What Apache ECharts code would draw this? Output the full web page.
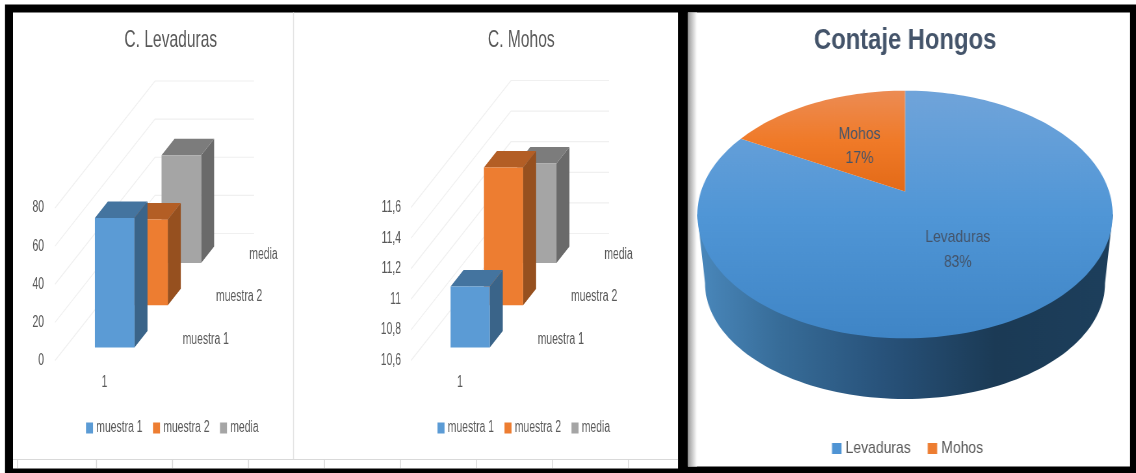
<!DOCTYPE html>
<html>
<head>
<meta charset="utf-8">
<style>
html,body{margin:0;padding:0;background:#fff;overflow:hidden;width:1136px;height:473px}
.panel{position:absolute;top:0;height:473px;transform-origin:0 0}
</style>
<script src="https://cdn.jsdelivr.net/npm/echarts@6/dist/echarts.min.js"></script>
</head>
<body>
<div id="bars" class="panel"></div>
<div id="pie" class="panel"></div>
<script>
// Yeast counts, mould counts and the overall share of each.
const depthNames = ['muestra 1', 'muestra 2', 'media'];
const levaduras = [68, 45, 56.5];
const mohos = [11, 11.5, 11.25];
const levTicks = [0, 20, 40, 60, 80];
const mohTicks = [10.6, 10.8, 11, 11.2, 11.4, 11.6];
const categories = ['1'];
const pieNames = ['Levaduras', 'Mohos'];
const piePct = [83, 17];
const sheetColumns = [17, 96, 172, 248, 324, 400, 476, 552, 628];

const FONT = '"Liberation Sans",Arial,sans-serif';
const TXT = '#595959', SLATE = '#44546A';
const faces = [
  { front: '#5B9BD5', side: '#3A6489', top: '#44749F' },
  { front: '#ED7D31', side: '#96501F', top: '#B35E25' },
  { front: '#A5A5A5', side: '#6A6A6A', top: '#7C7C7C' }
];

// Both panels are laid out wider than shown and condensed with a CSS scale,
// which gives the narrow lettering.
function mountPanel(id, originX, pageWidth, scale) {
  const el = document.getElementById(id);
  el.style.left = originX + 'px';
  el.style.width = (pageWidth / scale) + 'px';
  el.style.transform = 'scaleX(' + scale + ')';
  return echarts.init(el, null, { renderer: 'canvas' });
}

/* ---------- bar panel ---------- */
const BS = 0.65;
const bx = x => x / BS;
const DX = bx(100), DY = -127, BAR_DEPTH = 0.13, BAR_WIDTH = 0.4;

function gridRender(params, api) {
  const p = api.coord([0, api.value(1)]);
  const band = api.size([1, 0])[0];
  const left = p[0] - band / 2;
  return {
    type: 'polyline',
    shape: { points: [[left, p[1]], [left + DX, p[1] + DY], [left + DX + band, p[1] + DY]] },
    style: { stroke: '#F0F0F0', lineWidth: 1.2, fill: null }
  };
}

function barRender(i, yMin) {
  return function (params, api) {
    const top = api.coord([0, api.value(1)]);
    const base = api.coord([0, yMin]);
    const band = api.size([1, 0])[0];
    const w = band * BAR_WIDTH;
    const centre = (i + 0.5) / 3;
    const d = centre - BAR_DEPTH / 2;
    const x0 = top[0] - w / 2 + DX * d, x1 = x0 + w;
    const yT = top[1] + DY * d, yB = base[1] + DY * d;
    const ox = DX * BAR_DEPTH, oy = DY * BAR_DEPTH;
    const c = faces[i];
    return {
      type: 'group',
      children: [
        { type: 'polygon', shape: { points: [[x1, yT], [x1 + ox, yT + oy], [x1 + ox, yB + oy], [x1, yB]] }, style: { fill: c.side } },
        { type: 'polygon', shape: { points: [[x0, yT], [x0 + ox, yT + oy], [x1 + ox, yT + oy], [x1, yT]] }, style: { fill: c.top } },
        { type: 'rect', shape: { x: x0, y: yT, width: w, height: yB - yT }, style: { fill: c.front } },
        {
          type: 'text', silent: true,
          style: {
            x: top[0] + band / 2 + DX * centre + bx(12), y: base[1] + DY * centre,
            text: depthNames[i], fill: TXT, fontFamily: FONT, fontSize: 16,
            textAlign: 'left', textVerticalAlign: 'middle'
          }
        }
      ]
    };
  };
}

function barSeries(values, idx, yMin, ticks) {
  const list = [{
    type: 'custom', xAxisIndex: idx, yAxisIndex: idx, z: 1, silent: true,
    renderItem: gridRender, data: ticks.map(t => [0, t])
  }];
  values.forEach((v, i) => list.push({
    type: 'custom', name: depthNames[i], xAxisIndex: idx, yAxisIndex: idx,
    z: 5 - i, itemStyle: { color: faces[i].front },
    renderItem: barRender(i, yMin), data: [[0, v]]
  }));
  return list;
}

const vLine = (x, y1, y2, stroke) => ({
  type: 'rect', shape: { x: bx(x), y: y1, width: bx(1), height: y2 - y1 }, style: { fill: stroke }
});
const barBackdrop = [
  { type: 'rect', shape: { x: bx(5), y: 4.5, width: bx(680), height: 469 }, style: { fill: '#000' } },
  { type: 'rect', shape: { x: bx(13), y: 12.5, width: bx(665), height: 456 }, style: { fill: '#fff' } },
  vLine(293, 12.5, 459, '#E4E4E4'),
  { type: 'rect', shape: { x: bx(13), y: 459, width: bx(665), height: 1 }, style: { fill: '#D9D9D9' } }
].concat(sheetColumns.map(x => vLine(x, 459, 468, '#D9D9D9')));

const decimalComma = v => String(Math.round(v * 10) / 10).replace('.', ',');
const xAxisBase = {
  type: 'category', data: categories,
  axisLine: { show: false }, axisTick: { show: false }, splitLine: { show: false },
  axisLabel: { color: TXT, fontFamily: FONT, fontSize: 16, margin: 14 }
};
const yAxisBase = {
  type: 'value',
  axisLine: { show: false }, axisTick: { show: false }, splitLine: { show: false }
};
const legendBase = {
  icon: 'rect', itemWidth: bx(7), itemHeight: 11, itemGap: bx(10.5), padding: 0, selectedMode: false,
  data: depthNames, top: 420,
  textStyle: { color: TXT, fontFamily: FONT, fontSize: 16 }
};
const barTitle = (text, x) => ({
  text, left: bx(x), top: 23, textAlign: 'center',
  textStyle: { color: TXT, fontFamily: FONT, fontSize: 24, fontWeight: 'normal' }
});

mountPanel('bars', 0, 684, BS).setOption({
  animation: false,
  backgroundColor: '#fff',
  graphic: { elements: barBackdrop.map(e => Object.assign({ silent: true, z: 0 }, e)) },
  title: [barTitle('C. Levaduras', 167.5), barTitle('C. Mohos', 518)],
  legend: [
    Object.assign({}, legendBase, { left: bx(86) }),
    Object.assign({}, legendBase, { left: bx(437.5) })
  ],
  grid: [
    { left: bx(55), width: bx(99), top: 208, height: 152.5 },
    { left: bx(411), width: bx(98), top: 207.5, height: 153 }
  ],
  xAxis: [
    Object.assign({ gridIndex: 0 }, xAxisBase),
    Object.assign({ gridIndex: 1 }, xAxisBase)
  ],
  yAxis: [
    Object.assign({ gridIndex: 0, min: 0, max: 80, interval: 20 }, yAxisBase,
      { axisLabel: { color: TXT, fontFamily: FONT, fontSize: 16, margin: bx(11), padding: [5, 0, 0, 0] } }),
    Object.assign({ gridIndex: 1, min: 10.6, max: 11.6, interval: 0.2 }, yAxisBase,
      { axisLabel: { color: TXT, fontFamily: FONT, fontSize: 16, margin: bx(10), padding: [5, 0, 0, 0], formatter: decimalComma } })
  ],
  series: barSeries(levaduras, 0, levTicks[0], levTicks)
    .concat(barSeries(mohos, 1, mohTicks[0], mohTicks))
});

/* ---------- pie panel ---------- */
const PS = 0.82, PIE_ORIGIN = 684;
const px = x => (x - PIE_ORIGIN) / PS;

// The pie is a disc seen in perspective: polar angles are pushed through a
// projective map that moves the hub towards the back of the ellipse.
const PIE = { cx: px(905), cy: 214.5, rx: 207.7 / PS, ry: 123.8, hub: -0.186 };
const WALL = { cy: 283, rx: 200 / PS, ry: 116 };

function project(x, y) {
  const nx = (x - PIE.cx) / PIE.rx, ny = (y - PIE.cy) / PIE.rx;
  const a = PIE.hub, den = 1 + a * ny;
  return [PIE.cx + PIE.rx * nx * Math.sqrt(1 - a * a) / den,
          PIE.cy + PIE.ry * (ny + a) / den];
}

function wallPoints() {
  const pts = [];
  for (let k = 0; k <= 90; k++) {
    const t = Math.PI * k / 90;
    pts.push([PIE.cx - WALL.rx * Math.cos(t), WALL.cy + WALL.ry * Math.sin(t)]);
  }
  pts.unshift([PIE.cx - PIE.rx, PIE.cy]);
  pts.push([PIE.cx + PIE.rx, PIE.cy]);
  return pts;
}

function sliceRender(startPct, gradient, withWall, labelText, labelDy) {
  return function (params, api) {
    const span = api.value(1);
    const pts = [];
    const steps = Math.max(12, Math.round(span * 2));
    for (let k = 0; k <= steps; k++) {
      const c = api.coord([1, startPct + span * k / steps]);
      pts.push(project(c[0], c[1]));
    }
    const hub = api.coord([0, 0]);
    pts.push(project(hub[0], hub[1]));
    const mid = api.coord([0.47, startPct + span / 2]);
    const m = project(mid[0], mid[1]);
    const children = [];
    if (withWall) {
      children.push({
        type: 'polygon', shape: { points: wallPoints() },
        style: {
          fill: {
            type: 'linear', x: 0, y: 0, x2: 1, y2: 0,
            colorStops: [
              { offset: 0, color: '#4A88BC' }, { offset: 0.2, color: '#376C98' },
              { offset: 0.45, color: '#28527A' }, { offset: 0.72, color: '#1B3A55' },
              { offset: 1, color: '#1D3F5C' }
            ]
          }
        }
      });
    }
    children.push({
      type: 'polygon', shape: { points: pts },
      style: { fill: { type: 'linear', x: 0, y: 0, x2: 0, y2: 1, colorStops: gradient } }
    });
    children.push({
      type: 'text', silent: true, z2: 10,
      style: {
        x: m[0], y: m[1] + labelDy, text: labelText + '\n' + span + '%', fill: SLATE,
        fontFamily: FONT, fontSize: 17, lineHeight: 24.5,
        textAlign: 'center', textVerticalAlign: 'middle'
      }
    });
    return { type: 'group', children };
  };
}

const pieBackdrop = [
  { type: 'rect', shape: { x: 0, y: 4.5, width: px(1136), height: 469 }, style: { fill: '#000' } },
  { type: 'rect', shape: { x: px(688), y: 12.5, width: 442 / PS, height: 454 }, style: { fill: '#fff' } },
  {
    type: 'rect', shape: { x: px(688), y: 12.5, width: 9 / PS, height: 454 },
    style: { fill: { type: 'linear', x: 0, y: 0, x2: 1, y2: 0, colorStops: [{ offset: 0, color: '#9A9A9A' }, { offset: 1, color: '#FFFFFF' }] } }
  }
];

mountPanel('pie', PIE_ORIGIN, 452, PS).setOption({
  animation: false,
  backgroundColor: '#fff',
  graphic: { elements: pieBackdrop.map(e => Object.assign({ silent: true, z: 0 }, e)) },
  title: {
    text: 'Contaje Hongos', left: px(901), top: 21, textAlign: 'center',
    textStyle: { color: SLATE, fontFamily: FONT, fontSize: 29, fontWeight: 'bold' }
  },
  legend: {
    icon: 'rect', left: px(832), top: 440, itemWidth: 9.5 / PS, itemHeight: 11, itemGap: 17 / PS,
    padding: 0, selectedMode: false, data: pieNames,
    textStyle: { color: TXT, fontFamily: FONT, fontSize: 17 }
  },
  polar: { center: [PIE.cx, PIE.cy], radius: PIE.rx },
  angleAxis: { type: 'value', min: 0, max: 100, startAngle: 90, show: false },
  radiusAxis: { type: 'value', min: 0, max: 1, show: false },
  series: [
    {
      type: 'custom', name: pieNames[0], coordinateSystem: 'polar', z: 2,
      itemStyle: { color: '#4F94D4' }, data: [[1, piePct[0]]],
      renderItem: sliceRender(0, [{ offset: 0, color: '#70A4DA' }, { offset: 0.5, color: '#5096D6' }, { offset: 1, color: '#3F85C6' }], true, pieNames[0], 6)
    },
    {
      type: 'custom', name: pieNames[1], coordinateSystem: 'polar', z: 3,
      itemStyle: { color: '#ED7D31' }, data: [[1, piePct[1]]],
      renderItem: sliceRender(piePct[0], [{ offset: 0, color: '#EC8C54' }, { offset: 0.5, color: '#F07A28' }, { offset: 1, color: '#E36A17' }], false, pieNames[1], 0)
    }
  ]
});
</script>
</body>
</html>
